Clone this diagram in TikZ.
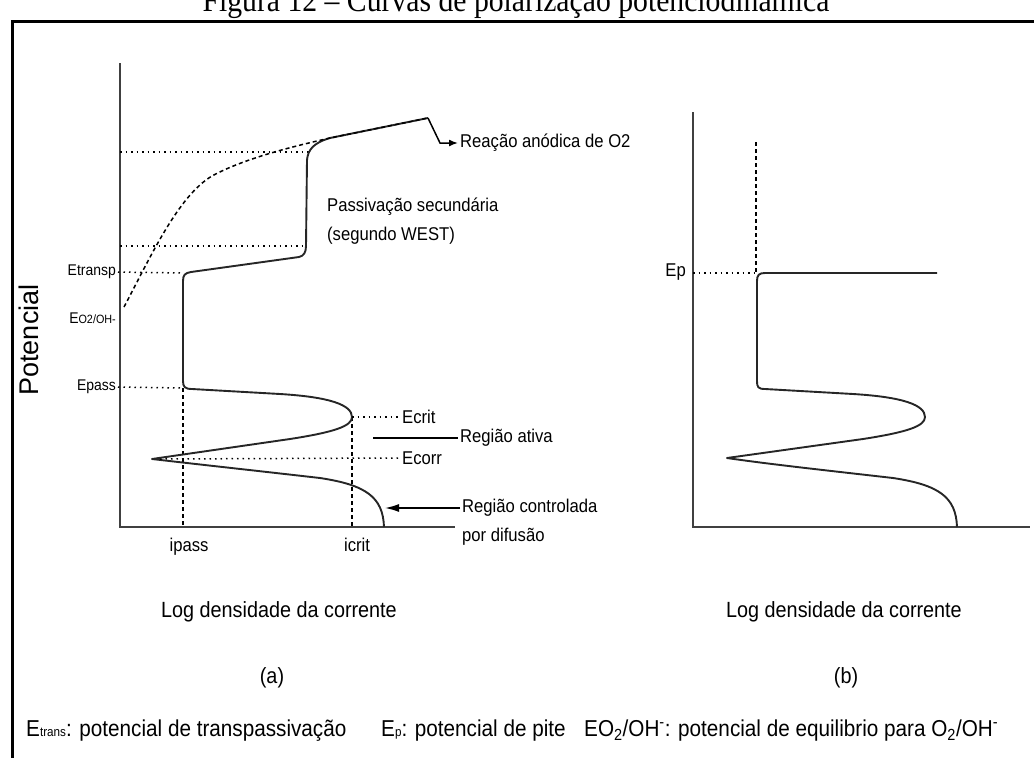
\documentclass[tikz,border=0pt]{standalone}
\usepackage{fontspec}
\setmainfont[FakeStretch=0.9]{Liberation Sans}
\newfontfamily\potfont{Liberation Sans}
\newfontfamily\titfont[FakeStretch=0.9]{Liberation Serif}
\usetikzlibrary{arrows.meta, calc, positioning}

\tikzset{
  axis/.style={line width=2pt, black!75},
  curve/.style={line width=1.9pt, black!85, line join=round},
  dots/.style={line width=1.5pt, dash pattern=on 1.5pt off 4pt},
  dashes/.style={line width=1.5pt, dash pattern=on 4pt off 3pt},
  lbl/.style={font=\fontsize{18.5}{20}\selectfont, inner sep=2pt},
  axlbl/.style={font=\fontsize{15.5}{17}\selectfont, inner sep=2pt},
  biglbl/.style={font=\fontsize{22}{24}\selectfont},
  leglbl/.style={font=\fontsize{23}{25}\selectfont, inner sep=0pt}
}

\begin{document}
\begin{tikzpicture}[x=1pt, y=-1pt]
\useasboundingbox (0,0) rectangle (1034,758);
\clip (0,0) rectangle (1034,758);

\node[font=\titfont\fontsize{33}{35}\selectfont, anchor=base] (titulo) at (516,11) {Figura 12 – Curvas de polarização potenciodinâmica};
\draw[line width=3pt] (1040,21) -- (12,21) -- (12,765);

\node[font=\potfont\fontsize{27}{29}\selectfont, rotate=90] (potencial) at (29,340) {Potencial};

% (a)
\draw[axis] (120,63) -- (120,527) -- (455,527);

\node[axlbl, anchor=east] (etransp) at (118,272) {Etransp};
\node[axlbl, anchor=east] (eo2) at (118,318) {E{\fontsize{12}{13}\selectfont O2/OH-}};
\node[axlbl, anchor=east] (epass) at (118,387) {Epass};

\draw[dots] (120,152) -- (309,152);
\draw[dots] (120,246) -- (305,246);
\draw[dots] (etransp.east) -- (183,273);
\draw[dots] (epass.east) -- (183,388);
\draw[dashes] (183,388) -- (183,527);
\draw[dashes] (352,417) -- (352,527);

\draw[curve] (384,527) .. controls (383,497) and (366,485) .. (320,478)
  .. controls (250,470) and (195,464) .. (152,459)
  -- (290,439) .. controls (335,432) and (352,426) .. (352,417)
  .. controls (352,405) and (330,397) .. (280,394)
  -- (192,389) .. controls (185,389) and (183,387) .. (183,381)
  -- (183,281) .. controls (183,275) and (185,273) .. (191,272)
  -- (299,257) .. controls (304,256) and (306,252) .. (306,246)
  -- (307,160) .. controls (308,150) and (313,143) .. (330,138)
  -- (428,118);
\draw[dashes] (124,307) .. controls (150,258) and (178,196) .. (212,176)
  .. controls (245,158) and (295,146) .. (330,138) -- (428,118);
\coordinate (o2end) at (428,118);

\node[lbl, anchor=west] (reacao) at (458,143) {Reação anódica de O2};
\draw[line width=1.5pt, -{Latex[length=9pt,width=7pt]}] (o2end) -- (440,143) -- (reacao.west);

\node[lbl, anchor=west] (passiv) at (325,207) {Passivação secundária};
\node[lbl, anchor=west] (west) at (325,236) {(segundo WEST)};

\node[lbl, anchor=west] (ecrit) at (400,417) {Ecrit};
\node[lbl, anchor=west] (ecorr) at (400,458) {Ecorr};
\coordinate (nosea) at (352,417);
\coordinate (tipa) at (160,459);
\draw[dots] (nosea) -- (ecrit.west);
\draw[dots] (tipa) -- (ecorr.west);

\node[lbl, anchor=west] (ativa) at (458,438) {Região ativa};
\coordinate (ativaend) at (373,438);
\draw[line width=1.5pt] (ativaend) -- (ativa.west);

\node[lbl, anchor=west] (controlada) at (460,508) {Região controlada};
\node[lbl, anchor=west] (difusao) at (460,537) {por difusão};
\coordinate (difa) at (385,508);
\draw[line width=1.5pt, -{Latex[length=14pt,width=8pt]}] (controlada.west) -- (difa);

\node[lbl, anchor=base] (ipass) at (189,551) {ipass};
\node[lbl, anchor=base] (icrit) at (357,551) {icrit};

\node[biglbl] (loga) at (279,612) {Log densidade da corrente};
\node[biglbl] (capa) at (272,678) {(a)};

% (b)
\draw[axis] (693,112) -- (693,527) -- (1030,527);

\node[lbl, anchor=east] (ep) at (688,272) {Ep};
\draw[dots] (693,273) -- (757,273);
\draw[dashes] (756,142) -- (756,273);

\draw[curve] (957,527) .. controls (956,497) and (939,485) .. (893,478)
  .. controls (823,470) and (768,464) .. (727,458)
  -- (863,439) .. controls (908,432) and (925,426) .. (925,417)
  .. controls (925,405) and (903,397) .. (853,394)
  -- (765,389) .. controls (758,389) and (757,387) .. (757,381)
  -- (757,281) .. controls (757,275) and (759,273) .. (765,273)
  -- (937,273);

\node[biglbl] (logb) at (844,612) {Log densidade da corrente};
\node[biglbl] (capb) at (846,678) {(b)};

\node[leglbl, anchor=west] (legtrans) at (26,731) {E{\fontsize{13}{14}\selectfont trans}: potencial de transpassivação};
\node[leglbl, anchor=west] (legep) at (381,731) {E{\fontsize{13}{14}\selectfont p}: potencial de pite};
\node[leglbl, anchor=west] (legeo2) at (584,731) {EO\textsubscript{2}/OH\textsuperscript{-}: potencial de equilibrio para O\textsubscript{2}/OH\textsuperscript{-}};
\end{tikzpicture}
\end{document}
